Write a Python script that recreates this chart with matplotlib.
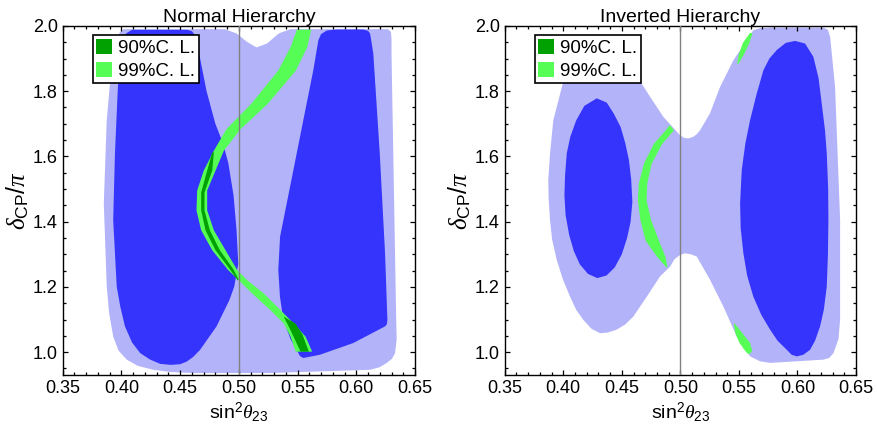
import matplotlib
matplotlib.use("Agg")
import matplotlib.pyplot as plt
from matplotlib.patches import Patch
from matplotlib.ticker import MultipleLocator, FormatStrFormatter

plt.rcParams['font.family'] = ['Liberation Sans', 'DejaVu Sans']
plt.rcParams['mathtext.fontset'] = 'custom'
plt.rcParams['mathtext.rm'] = 'Liberation Sans'
plt.rcParams['mathtext.it'] = 'Liberation Serif:italic'

LIGHT_BLUE = '#b3b3f9'
DARK_BLUE = '#3434fd'
LIGHT_GREEN = '#55fd55'
DARK_GREEN = '#00a100'

# ---- Normal hierarchy ----
nh_99_s23 = [0.402, 0.488, 0.498, 0.507, 0.515, 0.524, 0.534, 0.544, 0.627, 0.6295, 0.630,
             0.630, 0.632, 0.634, 0.6344, 0.633, 0.6305, 0.626, 0.620, 0.612, 0.527, 0.461,
             0.442, 0.427, 0.414, 0.4045, 0.3975, 0.393, 0.3895, 0.3875, 0.385, 0.3875,
             0.390, 0.3945, 0.3965, 0.3985]
nh_99_dcp = [1.990, 1.990, 1.977, 1.951, 1.934, 1.946, 1.977, 1.990, 1.990, 1.982, 1.960,
             1.915, 1.507, 1.099, 1.040, 0.997, 0.980, 0.967, 0.954, 0.946, 0.936, 0.936,
             0.939, 0.946, 0.958, 0.977, 1.005, 1.048, 1.120, 1.201, 1.456, 1.711,
             1.813, 1.915, 1.955, 1.980]

nh_90a_s23 = [0.409, 0.456, 0.460, 0.463, 0.467, 0.4725, 0.480, 0.4865, 0.491, 0.4955, 0.498,
              0.4995, 0.496, 0.492, 0.481, 0.467, 0.461, 0.4556, 0.450, 0.442, 0.433, 0.424,
              0.416, 0.409, 0.403, 0.399, 0.396, 0.393, 0.3945, 0.397, 0.400, 0.404]
nh_90a_dcp = [1.988, 1.988, 1.984, 1.970, 1.900, 1.800, 1.700, 1.640, 1.580, 1.480, 1.375,
              1.270, 1.200, 1.160, 1.079, 1.007, 0.985, 0.971, 0.963, 0.961, 0.964, 0.978,
              0.997, 1.030, 1.079, 1.140, 1.201, 1.405, 1.609, 1.813, 1.950, 1.977]

nh_90b_s23 = [0.5833, 0.606, 0.610, 0.6117, 0.613, 0.6145, 0.620, 0.6245, 0.6265, 0.626,
              0.6245, 0.5975, 0.569, 0.5549, 0.552, 0.5507, 0.544, 0.5379, 0.535, 0.5336,
              0.5351, 0.5436, 0.5549, 0.5634, 0.5677, 0.570, 0.575]
nh_90b_dcp = [1.989, 1.989, 1.985, 1.977, 1.950, 1.915, 1.609, 1.303, 1.099, 1.085,
              1.079, 1.028, 0.992, 0.982, 0.988, 0.997, 1.040, 1.099, 1.170, 1.252,
              1.354, 1.507, 1.711, 1.864, 1.956, 1.975, 1.986]

# fit band, 99% C.L.
nh_g99_dcp = [1.003, 1.049, 1.089, 1.130, 1.181, 1.222, 1.253, 1.314, 1.375, 1.436, 1.497,
              1.558, 1.619, 1.685, 1.762, 1.864, 1.936, 1.990]
nh_g99_lo = [0.548, 0.5436, 0.5379, 0.5265, 0.511, 0.4995, 0.4905, 0.4769, 0.4675, 0.4635,
             0.4641, 0.4697, 0.4783, 0.489, 0.510, 0.533, 0.5436, 0.549]
nh_g99_hi = [0.562, 0.5564, 0.5464, 0.5351, 0.5209, 0.5067, 0.4982, 0.4882, 0.4783, 0.4726,
             0.4726, 0.4797, 0.4868, 0.501, 0.524, 0.548, 0.5578, 0.5612]
# 90% C.L. pieces
nh_g90a_dcp = [1.222, 1.253, 1.314, 1.375, 1.436, 1.491, 1.558, 1.614]
nh_g90a_lo = [0.4985, 0.4925, 0.4797, 0.4712, 0.4675, 0.4675, 0.4726, 0.4769]
nh_g90a_hi = [0.4995, 0.4953, 0.4834, 0.4749, 0.4703, 0.4703, 0.4769, 0.4783]
nh_g90b_dcp = [1.003, 1.058, 1.089, 1.109]
nh_g90b_lo = [0.5521, 0.5450, 0.5408, 0.5379]
nh_g90b_hi = [0.5592, 0.5535, 0.5478, 0.5385]

# ---- Inverted hierarchy ----
ih_99_s23 = [0.405, 0.430, 0.455, 0.4641, 0.4741, 0.4855, 0.4997, 0.503, 0.5068, 0.511,
             0.514, 0.5168, 0.5253, 0.5339, 0.5453, 0.5567, 0.5623, 0.568, 0.5766, 0.6221,
             0.626, 0.6279, 0.6321, 0.6364, 0.6364, 0.635, 0.6307, 0.627, 0.6221, 0.5766,
             0.568, 0.5595, 0.5481, 0.5367, 0.5253, 0.514, 0.509, 0.504, 0.4997, 0.495,
             0.4912, 0.4826, 0.4713, 0.4598, 0.453, 0.4456, 0.438, 0.4314, 0.424, 0.4171,
             0.411, 0.4058, 0.3995, 0.3944, 0.3905, 0.3887, 0.3875, 0.3872, 0.3887, 0.3915,
             0.400]
ih_99_dcp = [1.870, 1.885, 1.870, 1.839, 1.783, 1.721, 1.665, 1.657, 1.655, 1.660,
             1.668, 1.680, 1.732, 1.813, 1.895, 1.956, 1.987, 1.993, 1.995, 1.995,
             1.988, 1.966, 1.813, 1.405, 1.099, 1.040, 0.997, 0.982, 0.977, 0.967,
             0.972, 0.987, 1.048, 1.140, 1.222, 1.293, 1.300, 1.303, 1.298, 1.285,
             1.262, 1.232, 1.170, 1.109, 1.085, 1.069, 1.060, 1.058, 1.072, 1.099,
             1.130, 1.170, 1.225, 1.283, 1.345, 1.405, 1.470, 1.528, 1.609, 1.711,
             1.829]

ih_90a_s23 = [0.4286, 0.4371, 0.443, 0.449, 0.453, 0.456, 0.458, 0.459, 0.4575, 0.4545,
              0.450, 0.444, 0.437, 0.429, 0.421, 0.414, 0.409, 0.405, 0.402, 0.401,
              0.4015, 0.403, 0.406, 0.411, 0.418]
ih_90a_dcp = [1.778, 1.765, 1.732, 1.690, 1.640, 1.590, 1.530, 1.460, 1.400, 1.350,
              1.300, 1.260, 1.235, 1.227, 1.240, 1.270, 1.310, 1.360, 1.420, 1.480,
              1.540, 1.610, 1.660, 1.710, 1.755]

ih_90b_s23 = [0.5979, 0.6065, 0.6136, 0.618, 0.6207, 0.6235, 0.625, 0.6262, 0.6264, 0.626,
              0.625, 0.6225, 0.6193, 0.615, 0.6107, 0.605, 0.5994, 0.595, 0.5909, 0.583,
              0.5766, 0.569, 0.5623, 0.557, 0.5538, 0.5515, 0.551, 0.5524, 0.5555, 0.5595,
              0.565, 0.5709, 0.576, 0.5823, 0.590]
ih_90b_dcp = [1.954, 1.946, 1.905, 1.840, 1.762, 1.680, 1.609, 1.500, 1.405, 1.300,
              1.201, 1.130, 1.079, 1.035, 1.007, 0.992, 0.987, 0.992, 1.007, 1.035,
              1.069, 1.115, 1.170, 1.235, 1.303, 1.380, 1.456, 1.558, 1.640, 1.711,
              1.790, 1.864, 1.900, 1.926, 1.948]

ih_ga_dcp = [1.262, 1.293, 1.344, 1.405, 1.466, 1.518, 1.579, 1.640, 1.681, 1.696]
ih_ga_lo = [0.4875, 0.4798, 0.4698, 0.4655, 0.4633, 0.4641, 0.4684, 0.4769, 0.4870, 0.4900]
ih_ga_hi = [0.4885, 0.4869, 0.4812, 0.4747, 0.4707, 0.4713, 0.4750, 0.4841, 0.4940, 0.4910]
ih_gb_dcp = [1.885, 1.915, 1.950, 1.980]
ih_gb_lo = [0.5481, 0.5495, 0.5530, 0.5590]
ih_gb_hi = [0.5490, 0.5540, 0.5585, 0.5612]
ih_gc_dcp = [0.997, 1.005, 1.030, 1.060, 1.089]
ih_gc_lo = [0.5570, 0.5550, 0.5500, 0.5465, 0.5452]
ih_gc_hi = [0.5590, 0.5609, 0.5590, 0.5524, 0.5460]


def style_axes(ax, title):
    ax.set_xlim(0.35, 0.65)
    ax.set_ylim(0.93, 2.0)
    ax.axvline(0.5, color='#808080', lw=1.0, zorder=5)
    ax.xaxis.set_major_locator(MultipleLocator(0.05))
    ax.xaxis.set_minor_locator(MultipleLocator(0.01))
    ax.yaxis.set_major_locator(MultipleLocator(0.2))
    ax.yaxis.set_minor_locator(MultipleLocator(0.05))
    ax.xaxis.set_major_formatter(FormatStrFormatter('%.2f'))
    ax.yaxis.set_major_formatter(FormatStrFormatter('%.1f'))
    ax.tick_params(which='both', direction='in', top=True, right=True, labelsize=13, width=0.9)
    ax.tick_params(which='major', length=3.5)
    ax.tick_params(which='minor', length=2)
    for s in ax.spines.values():
        s.set_linewidth(1.0)
    ax.set_title(title, fontsize=14, pad=2)
    ax.set_xlabel(r'sin$^2\theta_{23}$', fontsize=14, labelpad=2)
    ax.set_ylabel(r'$\delta_{\mathrm{CP}}/\pi$', fontsize=18, labelpad=1)
    handles = [Patch(facecolor=DARK_GREEN, edgecolor='none', label='90%C. L.'),
               Patch(facecolor=LIGHT_GREEN, edgecolor='none', label='99%C. L.')]
    leg = ax.legend(handles=handles, loc='upper left', bbox_to_anchor=(0.085, 0.973),
                    borderaxespad=0, fontsize=13.5, handlelength=0.85, handleheight=0.85,
                    handletextpad=0.3, labelspacing=0.25, borderpad=0.2, fancybox=False,
                    framealpha=1, edgecolor='black')
    leg.get_frame().set_linewidth(1.2)
    leg.set_zorder(10)


fig = plt.figure(figsize=(8.77, 4.32), dpi=100)
ax1 = fig.add_axes([0.0715, 0.132, 0.4017, 0.808])
ax2 = fig.add_axes([0.5755, 0.132, 0.4006, 0.808])

ax1.fill(nh_99_s23, nh_99_dcp, color=LIGHT_BLUE, lw=0, zorder=1)
ax1.fill(nh_90a_s23, nh_90a_dcp, color=DARK_BLUE, lw=0, zorder=2)
ax1.fill(nh_90b_s23, nh_90b_dcp, color=DARK_BLUE, lw=0, zorder=2)
ax1.fill_betweenx(nh_g99_dcp, nh_g99_lo, nh_g99_hi, color=LIGHT_GREEN, lw=0, zorder=3)
ax1.fill_betweenx(nh_g90a_dcp, nh_g90a_lo, nh_g90a_hi, color=DARK_GREEN, lw=0, zorder=4)
ax1.fill_betweenx(nh_g90b_dcp, nh_g90b_lo, nh_g90b_hi, color=DARK_GREEN, lw=0, zorder=4)
style_axes(ax1, 'Normal Hierarchy')

ax2.fill(ih_99_s23, ih_99_dcp, color=LIGHT_BLUE, lw=0, zorder=1)
ax2.fill(ih_90a_s23, ih_90a_dcp, color=DARK_BLUE, lw=0, zorder=2)
ax2.fill(ih_90b_s23, ih_90b_dcp, color=DARK_BLUE, lw=0, zorder=2)
for y, lo, hi in [(ih_ga_dcp, ih_ga_lo, ih_ga_hi), (ih_gb_dcp, ih_gb_lo, ih_gb_hi),
                  (ih_gc_dcp, ih_gc_lo, ih_gc_hi)]:
    ax2.fill_betweenx(y, lo, hi, color=LIGHT_GREEN, lw=0, zorder=3)
style_axes(ax2, 'Inverted Hierarchy')

fig.savefig('out.png', dpi=100)
